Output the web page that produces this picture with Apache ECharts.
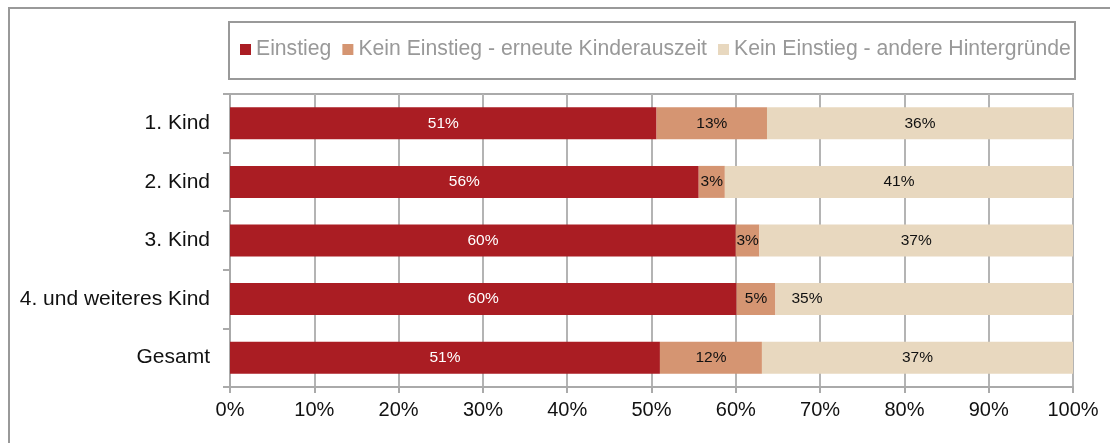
<!DOCTYPE html>
<html>
<head>
<meta charset="utf-8">
<script src="https://cdn.jsdelivr.net/npm/echarts@6/dist/echarts.min.js"></script>
<style>
  html, body { margin: 0; padding: 0; background: #fff; }
  #chart { width: 1110px; height: 443px; }
</style>
</head>
<body>
<div id="chart"></div>
<script>
const categories = ['1. Kind', '2. Kind', '3. Kind', '4. und weiteres Kind', 'Gesamt'];
const seriesNames = ['Einstieg', 'Kein Einstieg - erneute Kinderauszeit', 'Kein Einstieg - andere Hintergründe'];
const einstieg = [50.6, 55.6, 60.0, 60.1, 51.0];
const auszeit = [13.1, 3.1, 2.8, 4.6, 12.1];
const andere = [36.3, 41.3, 37.2, 35.3, 36.9];
const xTicks = [0, 10, 20, 30, 40, 50, 60, 70, 80, 90, 100];

const colors = ['#AA1D23', '#D59572', '#E8D8BF'];
const font = 'Arial, "Liberation Sans", sans-serif';

const chart = echarts.init(document.getElementById('chart'));

const mkSeries = (name, values, idx) => ({
  name: name,
  type: 'bar',
  stack: 'total',
  barWidth: 32,
  itemStyle: { color: colors[idx] },
  label: {
    show: true,
    position: 'inside',
    fontFamily: font,
    fontSize: 15.5,
    color: idx === 0 ? '#fff' : '#111',
    formatter: p => Math.round(p.value) + '%'
  },
  data: values.map((v, i) => {
    // the 35% label in row 4 sits near the left of its segment
    if (idx === 2 && i === 3) {
      return { value: v, label: { position: 'insideLeft', distance: 16 } };
    }
    return v;
  })
});

const option = {
  animation: false,
  textStyle: { fontFamily: font },
  graphic: [
    {
      type: 'rect',
      shape: { x: 9, y: 8, width: 1120, height: 500 },
      style: { fill: 'none', stroke: '#999', lineWidth: 2 },
      silent: true
    },
    {
      type: 'rect',
      shape: { x: 229, y: 22, width: 846, height: 57 },
      style: { fill: 'none', stroke: '#999', lineWidth: 2 },
      silent: true
    }
  ],
  legend: {
    data: seriesNames,
    left: 240,
    top: 39,
    icon: 'rect',
    itemWidth: 11,
    itemHeight: 11,
    itemGap: 11,
    padding: 0,
    textStyle: { color: '#999', fontSize: 21.2, fontFamily: font }
  },
  grid: {
    left: 230,
    right: 37,
    top: 94,
    bottom: 56,
    show: true,
    borderColor: '#aaa',
    borderWidth: 2
  },
  xAxis: {
    type: 'value',
    min: 0,
    max: 100,
    interval: 10,
    axisLine: { show: true, lineStyle: { color: '#aaa', width: 2 } },
    axisTick: { show: true, length: 6, lineStyle: { color: '#aaa', width: 2 } },
    splitLine: { show: true, lineStyle: { color: '#b4b4b4', width: 2 } },
    axisLabel: {
      margin: 13,
      fontSize: 20,
      color: '#111',
      fontFamily: font,
      formatter: v => (xTicks.includes(v) ? v + '%' : '')
    }
  },
  yAxis: {
    type: 'category',
    inverse: true,
    data: categories,
    axisLine: { show: true, lineStyle: { color: '#aaa', width: 2 } },
    axisTick: { show: true, length: 7, lineStyle: { color: '#aaa', width: 2 } },
    axisLabel: { margin: 20, fontSize: 21, color: '#111', fontFamily: font }
  },
  series: [
    mkSeries(seriesNames[0], einstieg, 0),
    mkSeries(seriesNames[1], auszeit, 1),
    mkSeries(seriesNames[2], andere, 2)
  ]
};

chart.setOption(option);
</script>
</body>
</html>
